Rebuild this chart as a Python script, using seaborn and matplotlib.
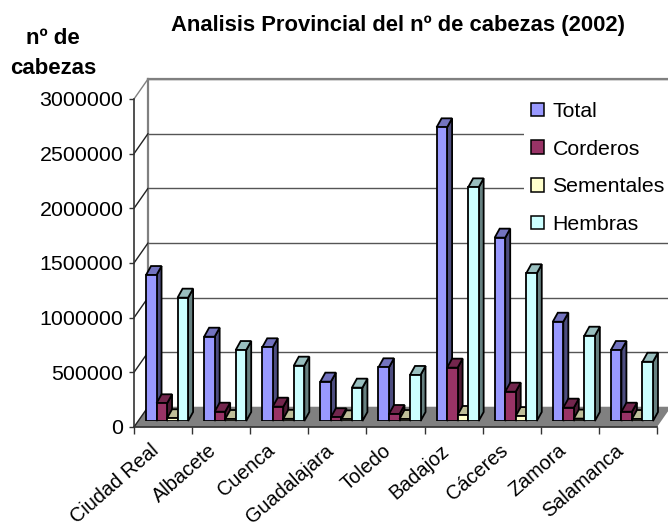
import matplotlib
matplotlib.use("Agg")
import matplotlib.pyplot as plt
from matplotlib.patches import Polygon, Patch
from matplotlib.transforms import ScaledTranslation
import pandas as pd
import seaborn as sns

provincias = ["Ciudad Real", "Albacete", "Cuenca", "Guadalajara", "Toledo",
              "Badajoz", "Cáceres", "Zamora", "Salamanca"]
total = [1335000, 771000, 674000, 360000, 491000, 2686000, 1677000, 908000, 649000]
corderos = [162000, 85000, 131000, 34000, 64000, 488000, 268000, 122000, 85000]
sementales = [25000, 18000, 20000, 15000, 18000, 55000, 45000, 22000, 18000]
hembras = [1128000, 649000, 506000, 305000, 421000, 2137000, 1351000, 780000, 542000]
series = ["Total", "Corderos", "Sementales", "Hembras"]
colores = ["#9999FF", "#993366", "#FFFFCC", "#CCFFFF"]
y_ticks = [0, 500000, 1000000, 1500000, 2000000, 2500000, 3000000]

W, H = 668, 527

sns.set_theme(style="white")
plt.rcParams["font.family"] = ["Liberation Sans", "DejaVu Sans"]


def caja(x0, y_top, x1, y_bot):
    # rectangulo en pixeles de la imagen -> coordenadas de figura
    return [x0 / W, 1 - y_bot / H, (x1 - x0) / W, (y_bot - y_top) / H]


df = pd.DataFrame({"provincia": provincias, "Total": total, "Corderos": corderos,
                   "Sementales": sementales, "Hembras": hembras})
df = df.melt(id_vars="provincia", var_name="serie", value_name="cabezas")

fig = plt.figure(figsize=(W / 100, H / 100), dpi=100, facecolor="white")

# pared del fondo
ax_wall = fig.add_axes(caja(148, 79, 671, 407), zorder=1)
ax_wall.set_xlim(0, 1)
ax_wall.set_ylim(0, 3000000)
ax_wall.set_yticks(y_ticks)
ax_wall.set_xticks([])
ax_wall.tick_params(left=False, labelleft=False)
ax_wall.grid(axis="y", color="#555555", lw=1)
for s in ["right", "bottom"]:
    ax_wall.spines[s].set_visible(False)
for s in ["left", "top"]:
    ax_wall.spines[s].set_color("#808080")
    ax_wall.spines[s].set_linewidth(1.6)

# suelo y lineas diagonales
ax_front = fig.add_axes(caja(134, 99, 657, 427), zorder=2)
ax_front.patch.set_alpha(0)
ax_front.set_xlim(-0.5, 8.5)
ax_front.set_ylim(0, 3000000)
ax_front.set_yticks(y_ticks)
ax_front.set_yticklabels([str(v) for v in y_ticks], fontsize=15.4, color="black")
ax_front.set_xticks([i - 0.5 for i in range(10)])
ax_front.set_xticklabels([])
ax_front.set_xticks(range(9), labels=provincias, minor=True)
ax_front.tick_params(axis="x", which="major", bottom=True, length=4.8, width=1, color="#333333")
ax_front.tick_params(axis="x", which="minor", bottom=False, pad=6)
ax_front.tick_params(axis="y", left=True, length=3.6, width=1, color="#333333", pad=4)
desplaza = ScaledTranslation(-13 / 100, 0, fig.dpi_scale_trans)
for lab in ax_front.get_xticklabels(minor=True):
    lab.set(rotation=41, ha="right", va="top", rotation_mode="anchor", fontsize=14.3, color="black")
    lab.set_transform(lab.get_transform() + desplaza)
sns.despine(ax=ax_front)
ax_front.spines["left"].set_color("#333333")
ax_front.spines["bottom"].set_color("#333333")
ax_front.spines["left"].set_linewidth(1.2)

dx_c = 14 / (523 / 9)
dy_v = 20 / 328 * 3000000
ax_front.add_patch(Polygon([(-0.5, 0), (8.5, 0), (8.5 + dx_c, dy_v), (-0.5 + dx_c, dy_v)],
                           closed=True, fc="#808080", ec="none", clip_on=False, zorder=0))
for v in y_ticks:
    col = "#808080" if v == 3000000 else "#222222"
    ax_front.plot([-0.5, -0.5 + dx_c], [v, v + dy_v], color=col, lw=1, clip_on=False, zorder=1)

# barras: mismo eje pero desplazado hacia el fondo
ax = fig.add_axes(caja(138, 93, 661, 421), zorder=3)
ax.patch.set_alpha(0)
sns.barplot(data=df, x="provincia", y="cabezas", hue="serie", hue_order=series,
            palette=colores, width=0.724, gap=0, saturation=1, legend=False,
            edgecolor="black", linewidth=1.3, ax=ax)
ax.set_xlim(-0.5, 8.5)
ax.set_ylim(0, 3000000)
ax.axis("off")

prof_x = 5 / (523 / 9)
prof_y = 9 / 328 * 3000000


def oscurecer(col, f):
    r, g, b = matplotlib.colors.to_rgb(col)
    return (r * f, g * f, b * f)


for k, cont in enumerate(ax.containers):
    for bar in cont:
        x0, w, h = bar.get_x(), bar.get_width(), bar.get_height()
        x1 = x0 + w
        bar.set_zorder(3 + k * 2 + 0.5)
        ax.add_patch(Polygon([(x1, 0), (x1 + prof_x, prof_y), (x1 + prof_x, h + prof_y), (x1, h)],
                             closed=True, fc=oscurecer(colores[k], 0.5), ec="black", lw=1.3,
                             zorder=3 + k * 2, clip_on=False))
        ax.add_patch(Polygon([(x0, h), (x1, h), (x1 + prof_x, h + prof_y), (x0 + prof_x, h + prof_y)],
                             closed=True, fc=oscurecer(colores[k], 0.75), ec="black", lw=1.3,
                             zorder=3 + k * 2, clip_on=False))

# leyenda
handles = [Patch(fc=c, ec="black", lw=1.1, label=s) for c, s in zip(colores, series)]
fig.legend(handles=handles, loc="upper left", bbox_to_anchor=(523.5 / W, 1 - 94.5 / H),
           frameon=True, facecolor="white", edgecolor="none", framealpha=1, fancybox=False,
           fontsize=15.3, handlelength=0.6, handleheight=0.6, handletextpad=0.41,
           labelspacing=0.88, borderpad=0.35, borderaxespad=0, labelcolor="black")

fig.text(398 / W, 1 - 25 / H, "Analisis Provincial del nº de cabezas (2002)",
         ha="center", va="center", fontsize=15.8, fontweight="bold", color="black")
fig.text(53 / W, 1 - 39 / H, "nº de", ha="center", va="center", fontsize=16,
         fontweight="bold", color="black")
fig.text(53 / W, 1 - 69 / H, "cabezas", ha="center", va="center", fontsize=16,
         fontweight="bold", color="black")

fig.savefig("out.png", dpi=100)
